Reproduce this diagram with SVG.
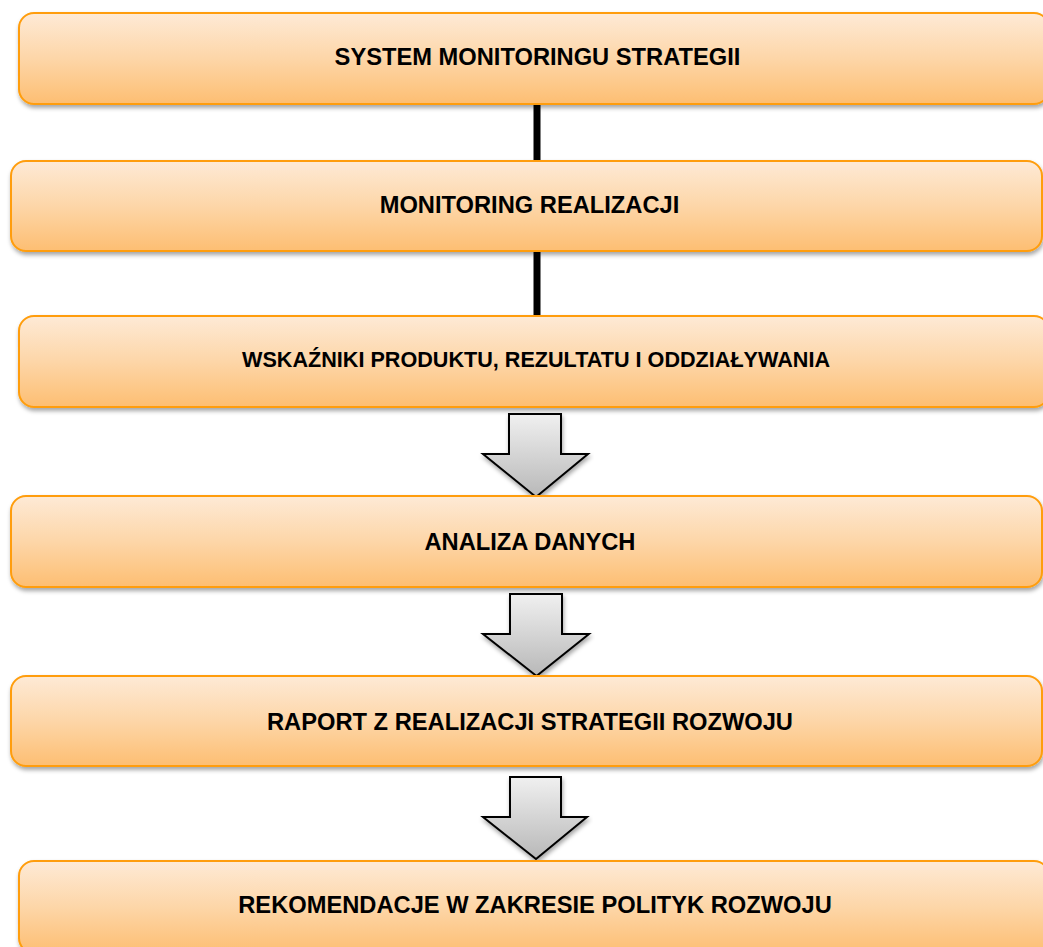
<svg xmlns="http://www.w3.org/2000/svg" width="1043" height="947" viewBox="0 0 1043 947">
<defs>
<linearGradient id="gBox" x1="0" y1="0" x2="0" y2="1">
<stop offset="0" stop-color="#FEEAD6"/>
<stop offset="0.5" stop-color="#FDD6A8"/>
<stop offset="1" stop-color="#FDBE72"/>
</linearGradient>
<linearGradient id="gArr" x1="0" y1="0" x2="0" y2="1">
<stop offset="0" stop-color="#F0F0F0"/>
<stop offset="1" stop-color="#B8B8B8"/>
</linearGradient>
<filter id="shadow" x="-5%" y="-20%" width="110%" height="150%">
<feDropShadow dx="1" dy="3" stdDeviation="2" flood-color="#000" flood-opacity="0.35"/>
</filter>
</defs>
<style>
.box{fill:url(#gBox);stroke:#FF9D0A;stroke-width:2;filter:url(#shadow)}
.lbl{font-family:"Liberation Sans",Arial,sans-serif;font-weight:bold;font-size:23.7px;fill:#000;text-anchor:middle}
.narrow{font-size:22.5px}
.arr{fill:url(#gArr);stroke:#000;stroke-width:2;stroke-linejoin:miter;filter:url(#shadow)}
.conn{stroke:#000;stroke-width:7}
</style>
<rect width="1043" height="947" fill="#fff"/>
<g id="connectors">
<line class="conn" x1="537" y1="104" x2="537" y2="162"/>
<line class="conn" x1="537" y1="251" x2="537" y2="317"/>
<path class="arr" d="M509,414 H561 V454 H588 L536,497 L483,454 H509 Z"/>
<path class="arr" d="M510,594 H562 V634 H589 L536.5,676 L483,634 H510 Z"/>
<path class="arr" d="M510,777 H561 V817 H587 L536,859 L483,817 H510 Z"/>
</g>
<g id="node1">
<rect class="box" x="19" y="13" width="1030" height="91" rx="15"/>
<text class="lbl" x="537.5" y="65">SYSTEM MONITORINGU STRATEGII</text>
</g>
<g id="node2">
<rect class="box" x="11" y="161" width="1031" height="90" rx="15"/>
<text class="lbl" x="529.5" y="213">MONITORING REALIZACJI</text>
</g>
<g id="node3">
<rect class="box" x="19" y="316" width="1030" height="91" rx="15"/>
<text class="lbl narrow" x="536" y="367" textLength="588" lengthAdjust="spacingAndGlyphs">WSKAŹNIKI PRODUKTU, REZULTATU I ODDZIAŁYWANIA</text>
</g>
<g id="node4">
<rect class="box" x="11" y="496" width="1031" height="91" rx="15"/>
<text class="lbl" x="530" y="550">ANALIZA DANYCH</text>
</g>
<g id="node5">
<rect class="box" x="11" y="676" width="1031" height="90" rx="15"/>
<text class="lbl" x="530" y="730">RAPORT Z REALIZACJI STRATEGII ROZWOJU</text>
</g>
<g id="node6">
<rect class="box" x="19" y="861" width="1030" height="92" rx="15"/>
<text class="lbl" x="535" y="913">REKOMENDACJE W ZAKRESIE POLITYK ROZWOJU</text>
</g>
</svg>
